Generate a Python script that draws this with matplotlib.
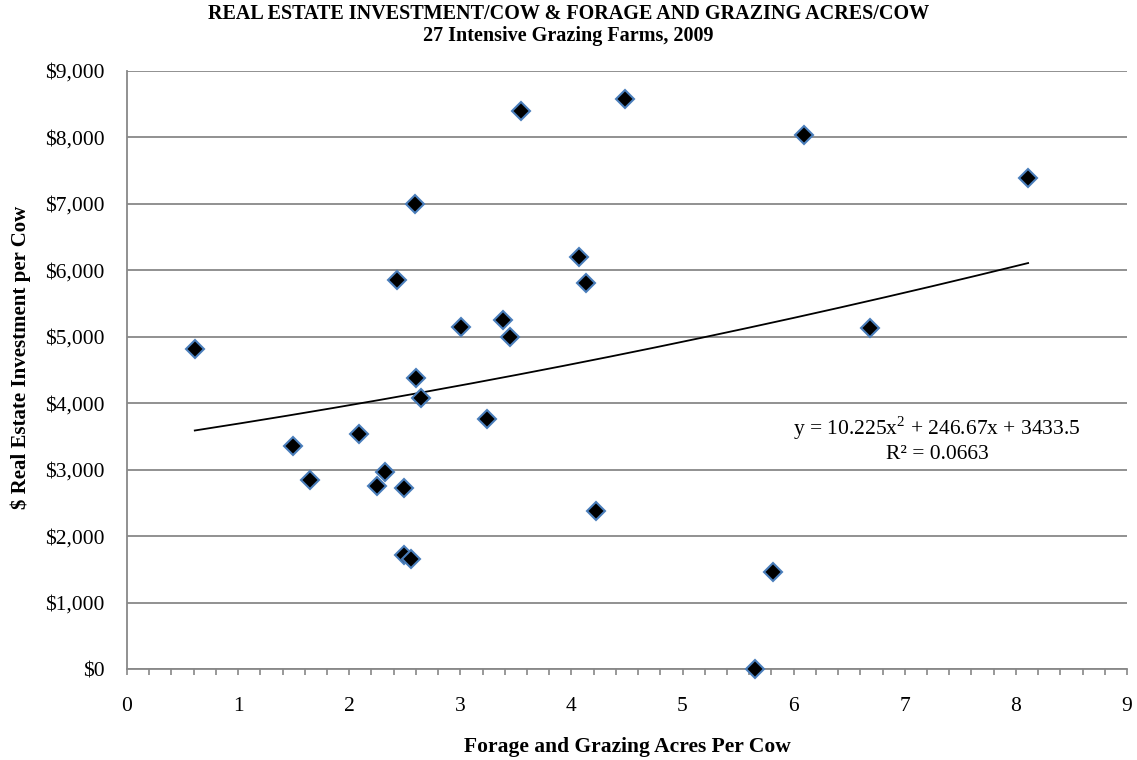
import matplotlib
matplotlib.use("Agg")
import matplotlib.pyplot as plt
import numpy as np
from matplotlib.ticker import FuncFormatter, MultipleLocator

# Forage and grazing acres per cow
acres = [0.61, 3.01, 3.38, 2.60, 2.65, 3.24, 1.49, 2.09, 1.65, 2.32,
         2.25, 2.49, 2.49, 2.56, 3.55, 4.48, 2.59, 2.43, 4.07, 4.13,
         3.45, 4.22, 5.65, 5.81, 6.09, 6.69, 8.11]
# Real estate investment per cow ($)
invest = [4810, 5140, 5250, 4370, 4080, 3760, 3360, 3540, 2840, 2960,
          2750, 2730, 1710, 1650, 8390, 8570, 6990, 5850, 6200, 5800,
          5000, 2370, 0, 1460, 8030, 5130, 7390]

# Polynomial trendline (order 2) coefficients as shown on the chart
trend_coef = [10.225, 246.67, 3433.5]
r_squared = 0.0663

title_lines = ["REAL ESTATE INVESTMENT/COW & FORAGE AND GRAZING ACRES/COW",
               "27 Intensive Grazing Farms, 2009"]
x_label = "Forage and Grazing Acres Per Cow"
y_label = "$ Real Estate Investment per Cow"

plt.rcParams['font.family'] = ['Liberation Serif', 'DejaVu Serif']
plt.rcParams['mathtext.fontset'] = 'custom'
plt.rcParams['mathtext.rm'] = 'Liberation Serif'

fig = plt.figure(figsize=(11.37, 7.60), dpi=100)
ax = fig.add_axes([0.1117, 0.1197, 0.8795, 0.7873])

grid_c = '#888888'
ax.set_xlim(0, 9)
ax.set_ylim(0, 9000)
ax.xaxis.set_major_locator(MultipleLocator(1))
ax.xaxis.set_minor_locator(MultipleLocator(0.2))
ax.yaxis.set_major_locator(MultipleLocator(1000))
ax.yaxis.set_major_formatter(FuncFormatter(lambda v, p: f"${v:,.0f}"))
ax.grid(axis='y', color=grid_c, linewidth=1.3)
ax.set_axisbelow(True)
for s in ['top', 'right']:
    ax.spines[s].set_visible(False)
for s in ['left', 'bottom']:
    ax.spines[s].set_color(grid_c)
    ax.spines[s].set_linewidth(1.3)

ax.tick_params(axis='x', which='both', direction='out', length=4, width=1.2,
               color=grid_c, labelsize=15.5, pad=16)
ax.tick_params(axis='y', length=0, labelsize=15.5, pad=16)

# Trendline
xs = np.linspace(min(acres), max(acres), 200)
ax.plot(xs, np.polyval(trend_coef, xs), color='black', linewidth=1.3, zorder=2)

ax.plot(acres, invest, linestyle='none', marker='D', markersize=9,
        markerfacecolor='black', markeredgecolor='#4a7ebb',
        markeredgewidth=1.5, zorder=3, clip_on=False)

a, b, c = trend_coef
ax.text(7.29, 3624, f"y = {a}x$^\\mathregular{{2}}$ + {b}x + {c}",
        ha='center', va='center', fontsize=15.5, zorder=4)
ax.text(7.29, 3233, f"R² = {r_squared}", ha='center', va='center',
        fontsize=15.5, zorder=4)

fig.text(0.5, 0.981, title_lines[0], ha='center', va='center',
         fontsize=14.5, fontweight='bold')
fig.text(0.5, 0.953, title_lines[1], ha='center', va='center',
         fontsize=14.5, fontweight='bold')
fig.text(0.5515, 0.017, x_label, ha='center', va='center', fontsize=15.5,
         fontweight='bold')
fig.text(0.018, 0.53, y_label, ha='center', va='center', fontsize=15,
         fontweight='bold', rotation=90)

fig.savefig("out.png", dpi=100)
